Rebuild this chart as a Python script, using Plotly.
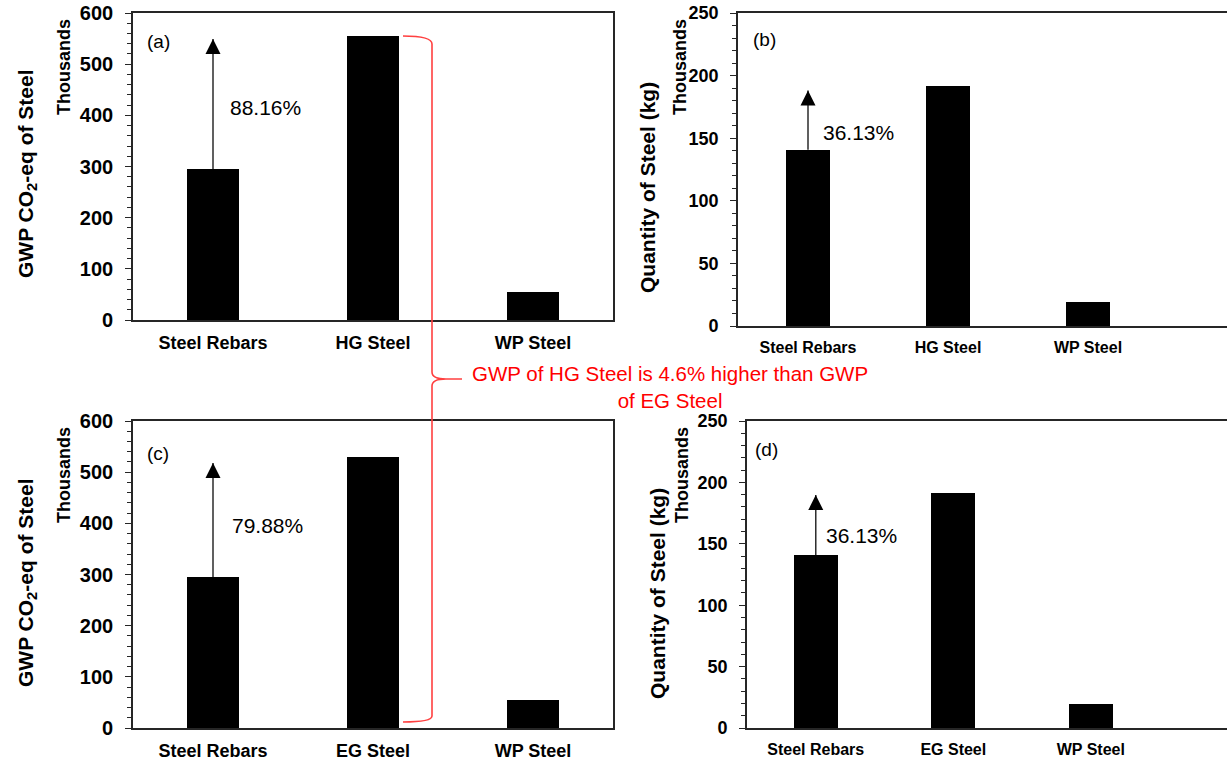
import plotly.graph_objects as go

# ---------------- data (values in thousands) ----------------
categories_hg = ["Steel Rebars", "HG Steel", "WP Steel"]
categories_eg = ["Steel Rebars", "EG Steel", "WP Steel"]
gwp_hg = [295.0, 555.5, 54.7]      # (a) GWP CO2-eq, thousands
gwp_eg = [295.0, 530.6, 54.7]      # (c)
qty_hg = [140.7, 191.6, 19.2]      # (b) quantity kg, thousands
qty_eg = [140.8, 191.6, 19.3]      # (d)
arrow_tips = [549.0, 188.0, 518.0, 189.7]          # a, b, c, d
pct_labels = ["88.16%", "36.13%", "79.88%", "36.13%"]
pct_label_y = [416.0, 154.5, 395.0, 157.0]
panel_tags = ["(a)", "(b)", "(c)", "(d)"]
note_text = "GWP of HG Steel is 4.6% higher than GWP<br>of EG Steel"

W, H = 1227, 760
def px(x):
    return x / W
def py(y):
    return 1 - y / H

FONT = "Arial, Liberation Sans, sans-serif"
AX = "#262626"

fig = go.Figure()
panels = [
    dict(cats=categories_hg, vals=gwp_hg, xa="x", ya="y"),
    dict(cats=categories_hg, vals=qty_hg, xa="x2", ya="y2"),
    dict(cats=categories_eg, vals=gwp_eg, xa="x3", ya="y3"),
    dict(cats=categories_eg, vals=qty_eg, xa="x4", ya="y4"),
]
for p, tip in zip(panels, arrow_tips):
    fig.add_trace(go.Bar(x=p["cats"], y=p["vals"], xaxis=p["xa"], yaxis=p["ya"],
                         width=0.32, marker=dict(color="black", line=dict(width=0)),
                         showlegend=False, hoverinfo="x+y"))
    # increase arrow: from top of first bar up to the tip
    cat0 = p["cats"][0]
    fig.add_trace(go.Scatter(x=[cat0, cat0], y=[p["vals"][0], tip], xaxis=p["xa"], yaxis=p["ya"],
                             mode="lines", line=dict(color="#2b2b2b", width=1.5),
                             showlegend=False, hoverinfo="skip"))
    fig.add_trace(go.Scatter(x=[cat0], y=[tip], xaxis=p["xa"], yaxis=p["ya"],
                             mode="markers", marker=dict(symbol="arrow-up", size=15, color="black",
                                                         line=dict(width=0)),
                             showlegend=False, hoverinfo="skip"))

def xaxis(dom, rng, size, anchor, mirror_top=True):
    return dict(domain=dom, anchor=anchor, type="category", range=rng, automargin=False,
                showline=True, linecolor=AX, linewidth=1.6, mirror=mirror_top,
                ticks="", showgrid=False, zeroline=False, fixedrange=True,
                tickfont=dict(family=FONT, size=size, color="black", weight="bold"),
                ticklabelstandoff=6)

def yaxis(dom, rng, dtick, mdtick, size, anchor, mirror):
    return dict(domain=dom, anchor=anchor, range=rng, dtick=dtick, automargin=False,
                showline=True, linecolor=AX, linewidth=1.6,
                mirror=mirror, ticks="outside", ticklen=6, tickwidth=1, tickcolor=AX,
                minor=dict(dtick=mdtick, ticks="outside", ticklen=4, tickcolor=AX, tickwidth=1, showgrid=False),
                showgrid=False, zeroline=False, fixedrange=True,
                tickfont=dict(family=FONT, size=size, color="black", weight="bold"),
                ticklabelstandoff=8)

fig.update_layout(
    width=W, height=H, margin=dict(l=0, r=0, t=0, b=0, autoexpand=False),
    paper_bgcolor="white", plot_bgcolor="white",
    bargap=0,
    xaxis=xaxis([px(133), px(613)], [-0.5, 2.5], 18, "y"),
    yaxis=yaxis([py(320), py(13)], [0, 600], 100, 20, 20, "x", True),
    xaxis2=xaxis([px(738), 1.0], [-0.5, 2.993], 16, "y2"),
    yaxis2=yaxis([py(326), py(13)], [0, 250], 50, 10, 18, "x2", False),
    xaxis3=xaxis([px(133), px(613)], [-0.5, 2.5], 18, "y3"),
    yaxis3=yaxis([py(728), py(421)], [0, 600], 100, 20, 20, "x3", True),
    xaxis4=xaxis([px(747), 1.0], [-0.5, 2.99], 16, "y4"),
    yaxis4=yaxis([py(728), py(421)], [0, 250], 50, 10, 18, "x4", False),
)

ann = []
# axis titles
ytitles = [
    ("GWP CO<sub>2</sub>-eq of Steel", 27, 174),
    ("Quantity of Steel (kg)", 647, 188),
    ("GWP CO<sub>2</sub>-eq of Steel", 27, 583),
    ("Quantity of Steel (kg)", 657, 594),
]
for t, x, y in ytitles:
    ann.append(dict(text=t, xref="paper", yref="paper", x=px(x), y=py(y),
                    xanchor="center", yanchor="middle", textangle=-90, showarrow=False,
                    font=dict(family=FONT, size=21, color="black", weight="bold")))
for x, y in [(64, 67), (680, 67), (64, 475), (682, 475)]:
    ann.append(dict(text="Thousands", xref="paper", yref="paper", x=px(x), y=py(y),
                    xanchor="center", yanchor="middle", textangle=-90, showarrow=False,
                    font=dict(family=FONT, size=18, color="black", weight="bold")))
# panel tags
for tag, x, y in zip(panel_tags, [145, 751, 145, 753], [42, 40, 453, 449]):
    ann.append(dict(text=tag, xref="paper", yref="paper", x=px(x), y=py(y),
                    xanchor="left", yanchor="middle", showarrow=False,
                    font=dict(family=FONT, size=19, color="black")))
# percentage labels
axes_pairs = [("x", "y"), ("x2", "y2"), ("x3", "y3"), ("x4", "y4")]
pct_dx = [0.33, 0.36, 0.34, 0.335]
for (xa, ya), lab, ly, dx in zip(axes_pairs, pct_labels, pct_label_y, pct_dx):
    ann.append(dict(text=lab, xref=xa, yref=ya, x=dx, y=ly, showarrow=False,
                    xanchor="center", yanchor="middle",
                    font=dict(family=FONT, size=21, color="black")))
# red note
ann.append(dict(text=note_text, xref="paper", yref="paper", x=px(670), y=py(387.5),
                xanchor="center", yanchor="middle", align="center", showarrow=False,
                font=dict(family=FONT, size=20.5, color="#FF0000")))
fig.update_layout(annotations=ann)

# red brace connecting HG bar top (a) to EG bar top (c)
def P(x, y):
    return f"{px(x):.5f},{py(y):.5f}"
brace = ("M " + P(403, 36) + " Q " + P(432, 36) + " " + P(432, 44) +
         " L " + P(432, 372) + " Q " + P(432, 379) + " " + P(446, 379) +
         " L " + P(462, 379) + " M " + P(446, 379) + " Q " + P(432, 379) + " " + P(432, 386) +
         " L " + P(432, 716) + " Q " + P(432, 722) + " " + P(403, 722))
fig.add_shape(type="path", path=brace, xref="paper", yref="paper",
              line=dict(color="#FF4040", width=1.6), layer="above")

fig.write_html("out.html", config={"displayModeBar": False},
               post_script="document.body.style.margin='0';document.body.style.overflow='hidden';")
